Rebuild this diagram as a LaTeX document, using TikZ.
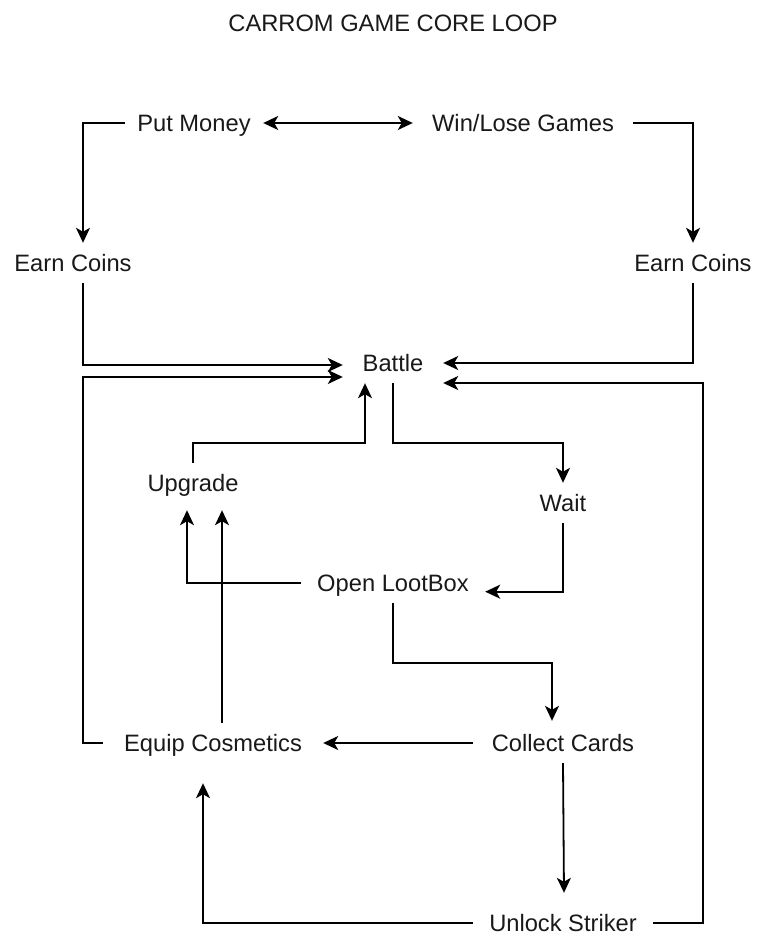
\documentclass[tikz,border=0pt]{standalone}
\usepackage{fontspec}
\setmainfont{Liberation Sans}
\usetikzlibrary{arrows.meta,calc}
\begin{document}
\begin{tikzpicture}[x=1pt,y=-1pt,
  lbl/.style={inner sep=0pt, text height=17pt, text depth=0pt, minimum height=40pt,
    font=\fontsize{23.7}{28}\selectfont, text=black!90},
  arr/.style={line width=1.8pt, -{Stealth[length=15pt,width=14pt,inset=4pt]}},
  barr/.style={line width=1.8pt, {Stealth[length=15pt,width=14pt,inset=4pt]}-{Stealth[length=15pt,width=14pt,inset=4pt]}}]
\path[use as bounding box, fill=white] (0,0) rectangle (766,948);

\node[lbl] (title) at (393,23) {CARROM GAME CORE LOOP};
\node[lbl, minimum width=138pt] (pm) at (194,123) {Put Money};
\node[lbl, minimum width=220pt] (wl) at (523,123) {Win/Lose Games};
\node[lbl] (ecl) at (73,263) {Earn Coins};
\node[lbl] (ecr) at (693,263) {Earn Coins};
\node[lbl, minimum width=100pt] (bat) at (393,363) {Battle};
\node[lbl] (upg) at (193,483) {Upgrade};
\node[lbl] (wait) at (563,503) {Wait};
\node[lbl, minimum width=184pt] (olb) at (393,583) {Open LootBox};
\node[lbl, minimum width=180pt] (cc) at (563,743) {Collect Cards};
\node[lbl, minimum width=220pt] (eq) at (213,743) {Equip Cosmetics};
\node[lbl, minimum width=180pt] (us) at (563,923) {Unlock Striker};

\coordinate (upgb) at ([yshift=-7pt]upg.south);
\coordinate (eqt) at ([xshift=9pt]eq.north);

\draw[barr] (pm.east) -- (wl.west);
\draw[arr] (pm.west) -| ([xshift=10pt]ecl.north);
\draw[arr] (wl.east) -| (ecr.north);
\draw[arr] ([xshift=10pt]ecl.south) |- ([yshift=-2pt]bat.west);
\draw[arr] (eq.west) -- ++(-20,0) |- ([yshift=-14pt]bat.west);
\draw[arr] (ecr.south) |- (bat.east);
\draw[arr] (us.east) -- ++(50,0) |- ([yshift=-20pt]bat.east);
\draw[arr] (bat.south) -- ++(0,60) -| (wait.north);
\draw[arr] (upg.north) -- ++(0,-20) -| ([xshift=-28pt]bat.south);
\draw[arr] (wait.south) |- ([yshift=-8.7pt]olb.east);
\draw[arr] (olb.west) -| ([xshift=-6pt]upgb);
\draw[arr] (eqt) -- (eqt |- upgb);
\draw[arr] (olb.south) -- ++(0,60) -| ([xshift=-11pt,yshift=2pt]cc.north);
\draw[arr] (cc.west) -- (eq.east);
\draw[arr] (cc.south) -- ([xshift=1pt,yshift=10pt]us.north);
\draw[arr] (us.west) -| ([xshift=-10pt,yshift=-20pt]eq.south);
\end{tikzpicture}
\end{document}
